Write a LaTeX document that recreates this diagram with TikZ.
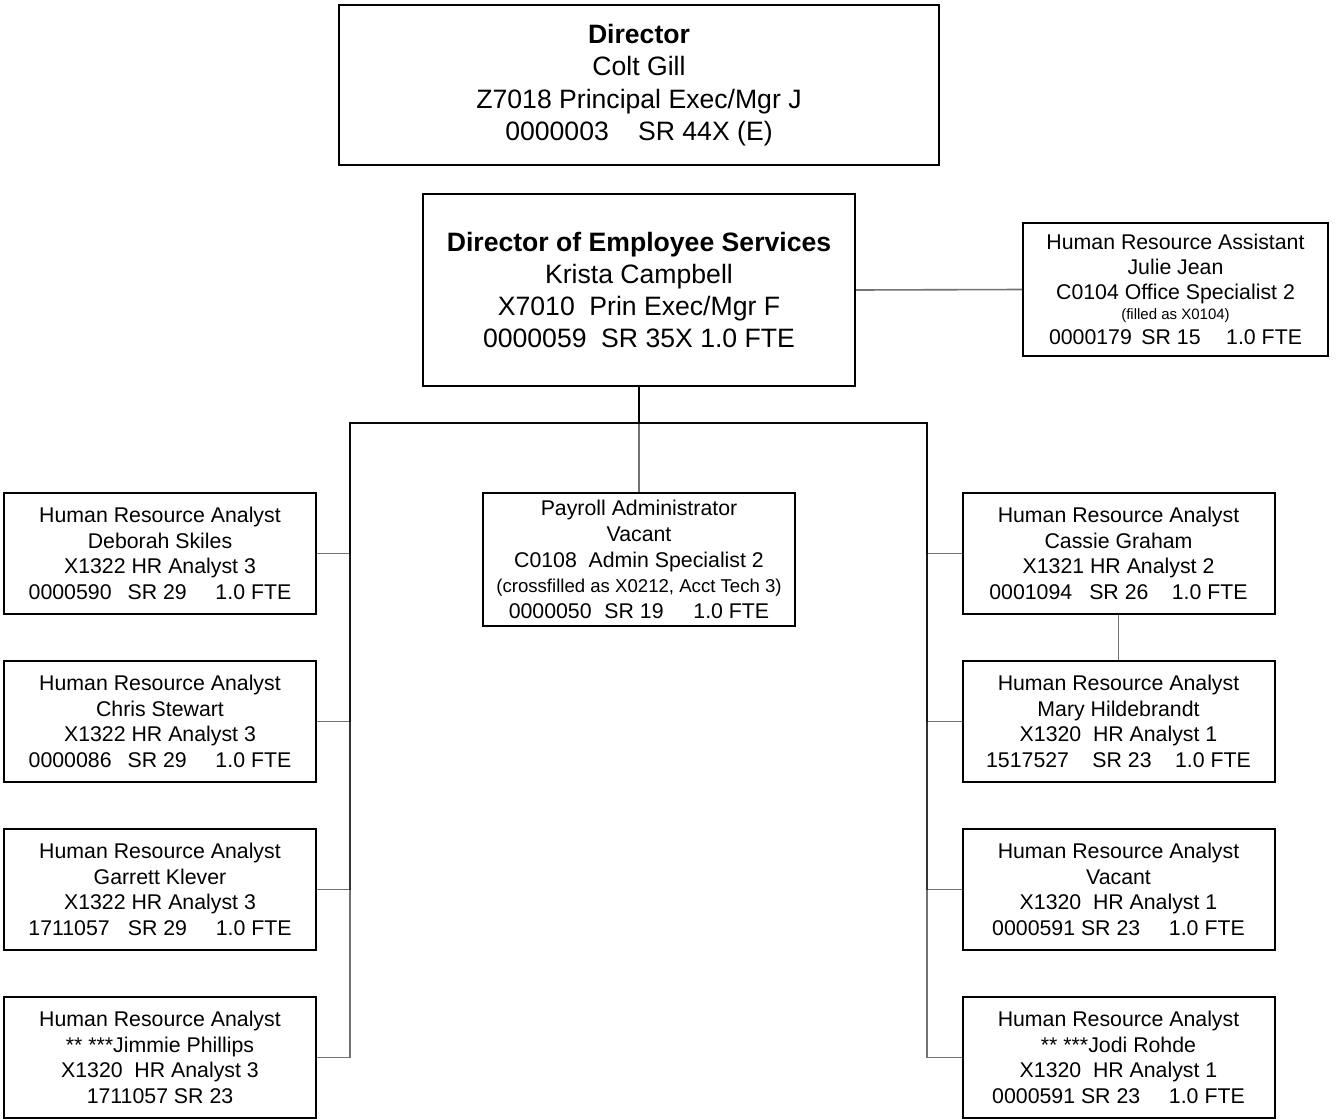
\documentclass[tikz,border=0pt]{standalone}
\usepackage{fontspec}
\setmainfont{Liberation Sans}
\begin{document}
\begin{tikzpicture}[x=1pt, y=-1pt,
  box/.style={draw, line width=2pt, inner sep=0pt, align=center, fill=white},
  unit/.style={box, minimum width=312pt, minimum height=121pt,
    font=\fontsize{21.3}{25.7}\selectfont},
  conn/.style={line width=1.6pt, draw=black, draw opacity=0.55}]
\useasboundingbox (0,0) rectangle (1336,1119);

% top level
\node[box, minimum width=600pt, minimum height=160pt,
  font=\fontsize{26.6}{32.5}\selectfont] (dir) at (639,85)
  {\textbf{Director}\\ Colt Gill\\ Z7018 Principal Exec/Mgr J\\
   0000003\hspace{1.1em}SR 44X (E)};

\node[box, minimum width=432pt, minimum height=192pt,
  font=\fontsize{26.6}{32}\selectfont] (des) at (639,290)
  {\textbf{Director of Employee Services}\\ Krista Campbell\\
   X7010\hspace{0.55em}Prin Exec/Mgr F\\ 0000059\hspace{0.55em}SR 35X 1.0 FTE};

\node[box, minimum width=305pt, minimum height=133pt,
  font=\fontsize{21.3}{25}\selectfont] (hra) at (1175.5,289.5)
  {Human Resource Assistant\\ Julie Jean\\ C0104 Office Specialist 2\\[-5pt]
   {\fontsize{15}{25}\selectfont (filled as X0104)}\\
   0000179\hspace{0.45em}SR 15\hspace{1.2em}1.0 FTE};

\node[unit, minimum height=133pt] (pay) at (639,559.5)
  {Payroll Administrator\\ Vacant\\ C0108\hspace{0.55em}Admin Specialist 2\\
   {\fontsize{18.6}{25.7}\selectfont (crossfilled as X0212, Acct Tech 3)}\\
   0000050\hspace{0.6em}SR 19\hspace{1.4em}1.0 FTE};

% left column
\node[unit] (l1) at (160,553.5)
  {Human Resource Analyst\\ Deborah Skiles\\ X1322 HR Analyst 3\\
   0000590\hspace{0.75em}SR 29\hspace{1.35em}1.0 FTE};
\node[unit] (l2) at (160,721.5)
  {Human Resource Analyst\\ Chris Stewart\\ X1322 HR Analyst 3\\
   0000086\hspace{0.75em}SR 29\hspace{1.35em}1.0 FTE};
\node[unit] (l3) at (160,889.5)
  {Human Resource Analyst\\ Garrett Klever\\ X1322 HR Analyst 3\\
   1711057\hspace{0.85em}SR 29\hspace{1.35em}1.0 FTE};
\node[unit] (l4) at (160,1057.5)
  {Human Resource Analyst\\ ** ***Jimmie Phillips\\ X1320\hspace{0.55em}HR Analyst 3\\
   1711057 SR 23};

% right column
\node[unit] (r1) at (1118.5,553.5)
  {Human Resource Analyst\\ Cassie Graham\\ X1321 HR Analyst 2\\
   0001094\hspace{0.8em}SR 26\hspace{1.1em}1.0 FTE};
\node[unit] (r2) at (1118.5,721.5)
  {Human Resource Analyst\\ Mary Hildebrandt\\ X1320\hspace{0.55em}HR Analyst 1\\
   1517527\hspace{1.1em}SR 23\hspace{1.1em}1.0 FTE};
\node[unit] (r3) at (1118.5,889.5)
  {Human Resource Analyst\\ Vacant\\ X1320\hspace{0.55em}HR Analyst 1\\
   0000591 SR 23\hspace{1.35em}1.0 FTE};
\node[unit] (r4) at (1118.5,1057.5)
  {Human Resource Analyst\\ ** ***Jodi Rohde\\ X1320\hspace{0.55em}HR Analyst 1\\
   0000591 SR 23\hspace{1.35em}1.0 FTE};

% junction points of the reporting lines
\coordinate (bar) at (639,423);
\coordinate (lbar) at (350,423);
\coordinate (rbar) at (927,423);

% reporting lines, one per position, so shared runs darken
\draw[conn] (des.east) -- (hra.west);
\draw[conn] (des.south) -- (bar) -- (pay.north);
\foreach \n in {l1,l2,l3,l4}
  \draw[conn] (des.south) -- (bar) -- (lbar) |- (\n.east);
\foreach \n in {r1,r2,r3,r4}
  \draw[conn] (des.south) -- (bar) -- (rbar) |- (\n.west);
\draw[conn] (r1.south) -- (r2.north);
\end{tikzpicture}
\end{document}
